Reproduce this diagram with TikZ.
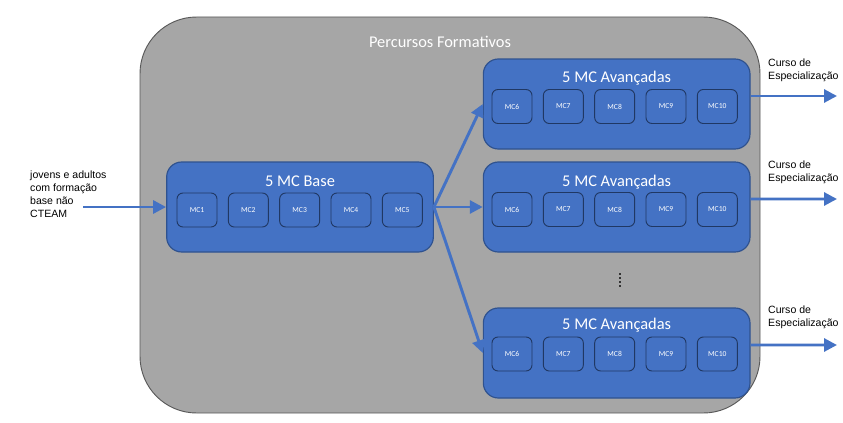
\documentclass[tikz,border=0pt]{standalone}
\usepackage{fontspec}
\setmainfont{Carlito}
\newfontfamily\sidefont{Liberation Sans}
\usetikzlibrary{arrows.meta}
\definecolor{mcblue}{HTML}{4472C4}
\definecolor{mcedge}{HTML}{2F528F}
\definecolor{mcdark}{HTML}{203864}
\definecolor{framegray}{HTML}{A6A6A6}

\begin{document}
\begin{tikzpicture}
            \useasboundingbox (0,0) rectangle (25.29,12.66);
            \begin{scope}[
                    every node/.style={text=white},
                    frame/.style={draw=black!65, fill=framegray, line width=0.8pt,
                        rounded corners=1.7cm, minimum width=18.6cm, minimum height=11.88cm},
                    block/.style={draw=mcedge, fill=mcblue, line width=1pt,
                        rounded corners=0.45cm, minimum width=8cm, minimum height=2.7cm},
                    blocktitle/.style={font=\fontsize{14}{16}\selectfont},
                    mcbox/.style={draw=mcdark, fill=mcblue, line width=0.8pt, rounded corners=0.18cm,
                        minimum width=1.2cm, minimum height=1.02cm, font=\fontsize{6.5}{7}\selectfont},
                    sidetext/.style={text=black, align=left, inner sep=0pt,
                        font=\sidefont\fontsize{9}{11}\selectfont},
                    flow/.style={draw=mcblue, line width=2.5pt, -{Triangle[length=11pt,width=11pt]}}
                ]

                \node[frame] (frame) at (13.5,6.21) {};
                \node[blocktitle] (frame-t) at (13.2,11.4) {Percursos Formativos};

                \node[block] (base) at (9.0,6.45) {};
                \node[block] (avA) at (18.5,9.54) {};
                \node[block] (avB) at (18.5,6.45) {};
                \node[block] (avC) at (18.5,2.07) {};

                \node[blocktitle] (base-t) at (9.0,7.23) {5 MC Base};
                \node[blocktitle] (avA-t) at (18.5,10.32) {5 MC Avançadas};
                \node[blocktitle] (avB-t) at (18.5,7.2) {5 MC Avançadas};
                \node[blocktitle] (avC-t) at (18.5,2.91) {5 MC Avançadas};

                \foreach \i in {1,...,5}
                    \node[mcbox] (base-\i) at ({4.37+1.54*\i},6.36) {MC\i};
                \foreach \b/\y in {avA/9.465, avB/6.375, avC/2.04}
                    \foreach \i/\k in {1/6, 2/7, 3/8, 4/9, 5/10}
                        \node[mcbox] (\b-\k) at ({13.82+1.54*\i},\y) {MC\k};

                % more rows left out
                \draw[black!80, line width=1.4pt, dash pattern=on 1.3pt off 2.2pt] (18.6,4.47) -- (18.6,4.03);

                \node[sidetext, anchor=north west] (who) at (0.9,7.53)
                    {jovens e adultos\\com formação\\base não\\CTEAM};
                \node[sidetext, anchor=north west] (avA-exit) at (23.04,10.89)
                    {Curso de\\Especialização};
                \node[sidetext, anchor=north west] (avB-exit) at (23.04,7.83)
                    {Curso de\\Especialização};
                \node[sidetext, anchor=north west] (avC-exit) at (23.04,3.48)
                    {Curso de\\Especialização};

                \coordinate (who-out) at (2.49,6.45);
                \coordinate (avA-out) at (25.11,9.78);
                \coordinate (avB-out) at (25.11,6.69);
                \coordinate (avC-out) at (25.11,2.31);

                \draw[flow] (who-out) -- (base.west);
                \draw[flow] (base.east) -- (avA.west);
                \draw[flow] (base.east) -- (avB.west);
                \draw[flow] (base.east) -- (avC.west);

                \draw[flow] ([yshift=0.24cm]avA.east) -- (avA-out);
                \draw[flow] ([yshift=0.24cm]avB.east) -- (avB-out);
                \draw[flow] ([yshift=0.24cm]avC.east) -- (avC-out);
            \end{scope}
        \end{tikzpicture}
\end{document}
